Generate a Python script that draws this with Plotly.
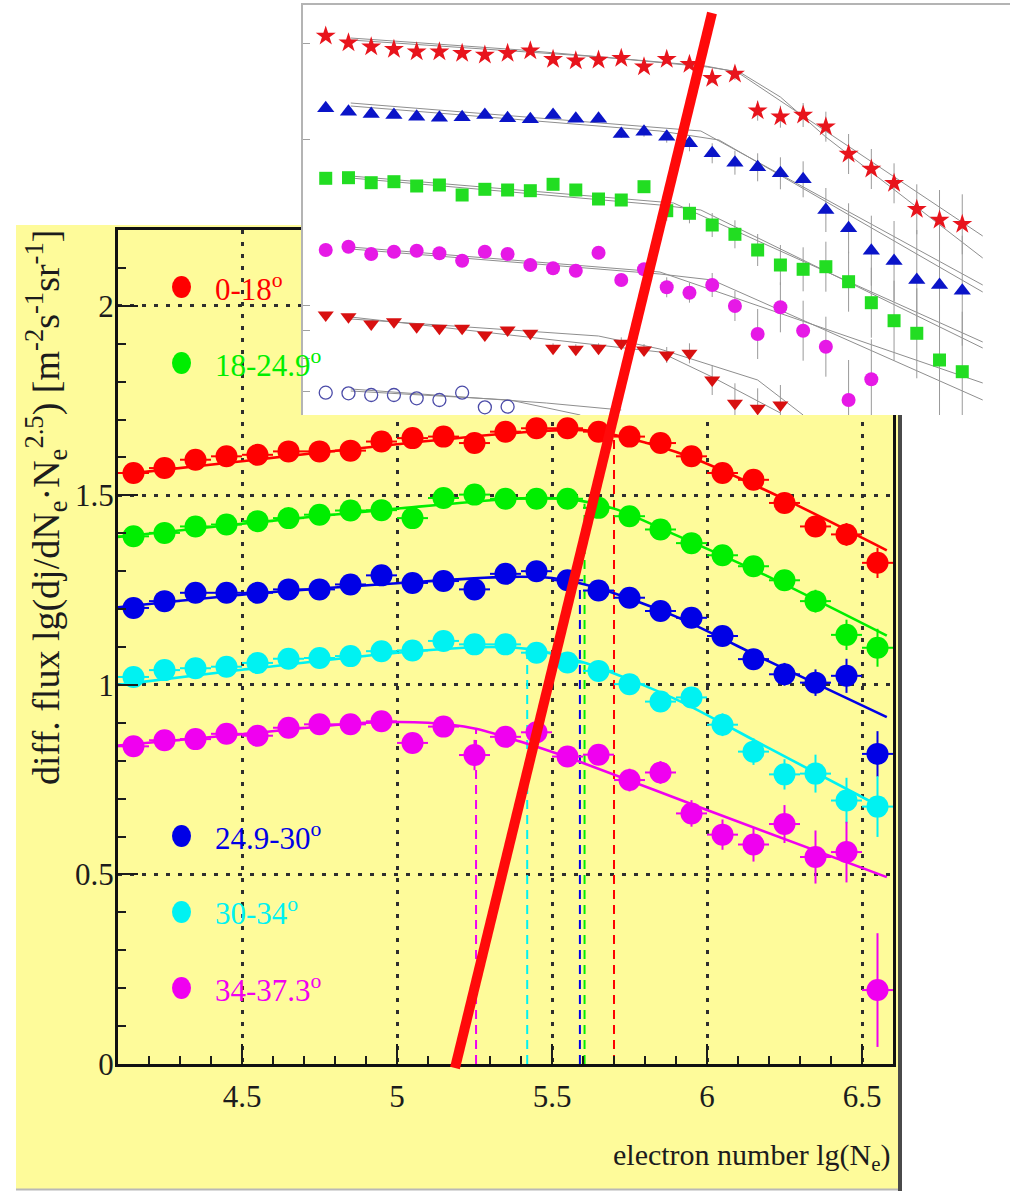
import plotly.graph_objects as go

W, H = 1010, 1191
# vertical extent used for placing paper-referenced items
H_PAPER = 1173


def fx(p):
    """pixel column -> paper x"""
    return p / W


def fy(p):
    """pixel row -> paper y"""
    return 1 - p / H_PAPER


# ---------------- main panel: spectra in five zenith-angle bins ----------------
lg_ne = [4.15, 4.25, 4.35, 4.45, 4.55, 4.65, 4.75, 4.85, 4.95, 5.05, 5.15, 5.25, 5.35,
         5.45, 5.55, 5.65, 5.75, 5.85, 5.95, 6.05, 6.15, 6.25, 6.35, 6.45, 6.55]

flux_0_18 = [1.559, 1.572, 1.594, 1.603, 1.607, 1.616, 1.616, 1.618, 1.642, 1.651, 1.655, 1.638, 1.668,
             1.677, 1.677, 1.668, 1.655, 1.638, 1.603, 1.559, 1.541, 1.480, 1.418, 1.397, 1.322]
flux_18_249 = [1.392, 1.401, 1.418, 1.423, 1.432, 1.440, 1.449, 1.460, 1.461, 1.440, 1.493, 1.502, 1.491,
               1.491, 1.491, 1.467, 1.445, 1.410, 1.374, 1.342, 1.313, 1.276, 1.221, 1.132, 1.098]
flux_249_30 = [1.203, 1.221, 1.243, 1.243, 1.243, 1.252, 1.252, 1.265, 1.289, 1.269, 1.274, 1.252, 1.293,
               1.300, 1.276, 1.249, 1.230, 1.195, 1.177, 1.129, 1.068, 1.028, 1.006, 1.024, 0.818]
flux_30_34 = [1.021, 1.039, 1.044, 1.048, 1.058, 1.069, 1.071, 1.076, 1.089, 1.091, 1.116, 1.107, 1.107,
              1.085, 1.059, 1.037, 1.002, 0.956, 0.967, 0.895, 0.824, 0.764, 0.766, 0.695, 0.679]
flux_34_373 = [0.838, 0.854, 0.857, 0.871, 0.866, 0.887, 0.896, 0.896, 0.904, 0.847, 0.890, 0.815, 0.863,
               0.875, 0.811, 0.816, 0.749, 0.769, 0.661, 0.605, 0.579, 0.633, 0.546, 0.559, 0.195]

err_0_18 = [0.008, 0.008, 0.008, 0.008, 0.008, 0.008, 0.008, 0.008, 0.008, 0.008, 0.008, 0.008, 0.008,
            0.008, 0.008, 0.008, 0.010, 0.010, 0.012, 0.014, 0.016, 0.020, 0.024, 0.030, 0.040]
err_18_249 = [0.008, 0.008, 0.008, 0.008, 0.008, 0.008, 0.008, 0.008, 0.008, 0.008, 0.008, 0.008, 0.008,
              0.008, 0.008, 0.010, 0.010, 0.012, 0.014, 0.016, 0.020, 0.024, 0.030, 0.040, 0.050]
err_249_30 = [0.008, 0.008, 0.008, 0.008, 0.008, 0.008, 0.008, 0.008, 0.008, 0.008, 0.008, 0.015, 0.008,
              0.008, 0.010, 0.010, 0.012, 0.014, 0.016, 0.020, 0.024, 0.030, 0.035, 0.045, 0.060]
err_30_34 = [0.008, 0.008, 0.008, 0.008, 0.008, 0.008, 0.008, 0.008, 0.008, 0.008, 0.008, 0.008, 0.010,
             0.010, 0.012, 0.014, 0.016, 0.020, 0.024, 0.030, 0.035, 0.040, 0.050, 0.060, 0.080]
err_34_373 = [0.008, 0.008, 0.008, 0.008, 0.008, 0.008, 0.008, 0.008, 0.010, 0.015, 0.015, 0.040, 0.015,
              0.020, 0.020, 0.025, 0.030, 0.030, 0.035, 0.040, 0.045, 0.050, 0.070, 0.080, 0.150]

# knee fits (smooth broken power law)
fit_x_0_18 = [4.12, 4.5, 5.0, 5.4, 5.6, 5.75, 5.95, 6.25, 6.58]
fit_y_0_18 = [1.556, 1.590, 1.635, 1.666, 1.672, 1.650, 1.600, 1.490, 1.355]
fit_x_18_249 = [4.1, 4.5, 5.0, 5.4, 5.55, 5.7, 5.9, 6.2, 6.58]
fit_y_18_249 = [1.39, 1.425, 1.465, 1.492, 1.49, 1.465, 1.395, 1.285, 1.13]
fit_x_249_30 = [4.1, 4.5, 5.0, 5.35, 5.5, 5.65, 5.9, 6.2, 6.58]
fit_y_249_30 = [1.205, 1.238, 1.268, 1.285, 1.282, 1.255, 1.18, 1.062, 0.915]
fit_x_30_34 = [4.1, 4.5, 5.0, 5.3, 5.42, 5.6, 5.9, 6.2, 6.58]
fit_y_30_34 = [1.0, 1.04, 1.085, 1.10, 1.095, 1.06, 0.962, 0.833, 0.67]
fit_x_34_373 = [4.1, 4.5, 4.9, 5.1, 5.25, 5.4, 5.55, 6.0, 6.58]
fit_y_34_373 = [0.84, 0.87, 0.90, 0.90, 0.885, 0.85, 0.809, 0.67, 0.493]

# knee positions and the fitted flux at the knee
knee_lg_ne = [5.70, 5.605, 5.59, 5.42, 5.255]
knee_flux = [1.655, 1.478, 1.262, 1.092, 0.882]

bin_labels = ["0-18<sup>o</sup>", "18-24.9<sup>o</sup>", "24.9-30<sup>o</sup>",
              "30-34<sup>o</sup>", "34-37.3<sup>o</sup>"]
bin_colors = ["#ff0000", "#00ee00", "#0000e6", "#00f2f2", "#f000f0"]

# ---------------- inset panel: shifted spectra ----------------
inset_lg_ne = [4.0, 4.1, 4.2, 4.3, 4.4, 4.5, 4.6, 4.7, 4.8, 4.9, 5.0, 5.1, 5.2, 5.3, 5.4,
               5.5, 5.6, 5.7, 5.8, 5.9, 6.0, 6.1, 6.2, 6.3, 6.4, 6.5, 6.6, 6.7, 6.8]
inset_star = [3.79, 3.723, 3.683, 3.657, 3.633, 3.633, 3.617, 3.60, 3.617, 3.643, 3.557, 3.543, 3.55,
              3.567, 3.483, 3.557, 3.507, 3.367, 3.41, 3.043, 2.983, 3.0, 2.883, 2.61, 2.46, 2.317,
              2.057, 1.95, 1.907]
inset_tri = [3.067, 3.033, 3.01, 3.0, 2.983, 2.973, 2.977, 3.0, 2.967, 2.957, 3.0, 2.963, 2.963,
             2.81, 2.833, 2.783, 2.717, 2.617, 2.523, 2.477, 2.417, 2.357, 2.05, 1.867, 1.643, 1.54,
             1.35, 1.30, 1.243]
inset_sq = [2.367, 2.373, 2.323, 2.333, 2.29, 2.30, 2.20, 2.257, 2.25, 2.243, 2.307, 2.25, 2.16,
            2.15, 2.283, 2.043, 2.017, 1.90, 1.807, 1.65, 1.50, 1.457, 1.483, 1.333, 1.123, 0.943,
            0.817, 0.55, 0.433]
inset_circ = [1.65, 1.683, 1.61, 1.633, 1.643, 1.617, 1.543, 1.633, 1.61, 1.50, 1.467, 1.443, 1.623,
              1.35, 1.457, 1.277, 1.223, 1.30, 1.09, 0.81, 1.077, 0.843, 0.683, 0.15, 0.357]
inset_dtri = [1.00, 0.983, 0.91, 0.933, 0.883, 0.867, 0.867, 0.80, 0.85, 0.817, 0.667, 0.657, 0.667,
              0.717, 0.65, 0.60, 0.617, 0.35, 0.117, 0.067, 0.10]
inset_ocirc = [0.223, 0.217, 0.20, 0.20, 0.167, 0.15, 0.223, 0.077, 0.083]

inset_star_err = [0, 0, 0, 0, 0, 0, 0, 0, 0, 0, 0, 0, 0, 0, 0, 0, 0, 0.05, 0.06, 0.10, 0.11, 0.12,
                  0.15, 0.20, 0.20, 0.20, 0.25, 0.30, 0.30]
inset_tri_err = [0, 0, 0, 0, 0, 0, 0, 0, 0, 0, 0, 0, 0, 0.04, 0.05, 0.06, 0.08, 0.10, 0.12, 0.14,
                 0.16, 0.18, 0.22, 0.25, 0.35, 0.40, 0.50, 0.50, 0.55]
inset_sq_err = [0, 0, 0, 0, 0, 0, 0, 0, 0, 0, 0, 0, 0, 0, 0, 0.10, 0.10, 0.12, 0.14, 0.16, 0.20,
                0.22, 0.25, 0.30, 0.35, 0.40, 0.45, 0.55, 0.60]
inset_circ_err = [0, 0, 0, 0, 0, 0, 0, 0, 0, 0, 0, 0, 0, 0, 0.05, 0.10, 0.10, 0.12, 0.15, 0.25,
                  0.25, 0.30, 0.30, 0.40, 0.40]
inset_dtri_err = [0, 0, 0, 0, 0, 0, 0, 0, 0, 0, 0.05, 0.05, 0.05, 0.06, 0.06, 0.08, 0.10, 0.15,
                  0.20, 0.20, 0.20]

# two fit curves per inset spectrum
inset_fits = [
    ([4.11, 4.86, 5.67, 5.81, 6.89], [3.77, 3.65, 3.49, 3.43, 1.79]),
    ([4.11, 5.21, 5.68, 5.82, 6.0, 6.2, 6.89], [3.75, 3.58, 3.48, 3.43, 3.18, 2.78, 1.57]),
    ([4.11, 5.47, 5.65, 6.89], [3.12, 2.87, 2.84, 1.30]),
    ([4.11, 5.47, 5.73, 6.89], [3.09, 2.84, 2.75, 1.23]),
    ([4.11, 5.53, 6.89], [2.39, 2.12, 0.73]),
    ([4.11, 5.47, 5.65, 6.89], [2.37, 2.10, 2.05, 0.67]),
    ([4.11, 5.47, 6.89], [1.68, 1.43, 0.32]),
    ([4.11, 5.47, 5.70, 6.89], [1.66, 1.41, 1.35, 0.15]),
    ([4.11, 5.47, 5.70, 6.0], [0.98, 0.63, 0.38, 0.02]),
    ([4.11, 5.2, 5.47, 5.9, 6.1], [0.96, 0.79, 0.66, 0.35, 0.0]),
    ([4.11, 4.97, 5.3], [0.26, 0.12, 0.05]),
    ([4.11, 4.81, 5.12], [0.24, 0.15, 0.0]),
]
inset_ytick_vals = [3.72, 2.76, 1.10, 0.85, 0.57, 0.24]

SERIF = "Liberation Serif"
INK = "#1c1c1c"

fig = go.Figure()

main_sets = [
    (flux_0_18, err_0_18, fit_x_0_18, fit_y_0_18),
    (flux_18_249, err_18_249, fit_x_18_249, fit_y_18_249),
    (flux_249_30, err_249_30, fit_x_249_30, fit_y_249_30),
    (flux_30_34, err_30_34, fit_x_30_34, fit_y_30_34),
    (flux_34_373, err_34_373, fit_x_34_373, fit_y_34_373),
]

# knee markers
for k, col in zip(range(len(knee_lg_ne)), bin_colors):
    fig.add_trace(go.Scatter(
        x=[knee_lg_ne[k], knee_lg_ne[k]], y=[0, knee_flux[k]], mode="lines",
        line=dict(color=col, width=2, dash="9px,6px"), hoverinfo="skip"))

# fitted curves
for (flux, err, fx_, fy_), col in zip(main_sets, bin_colors):
    fig.add_trace(go.Scatter(
        x=fx_, y=fy_, mode="lines",
        line=dict(color=col, width=2.6, shape="spline", smoothing=0.8), hoverinfo="skip"))

# measured points
for (flux, err, fx_, fy_), col, name in zip(main_sets, bin_colors, bin_labels):
    fig.add_trace(go.Scatter(
        x=lg_ne, y=flux, mode="markers", name=name,
        marker=dict(color=col, size=22, line=dict(width=0)),
        error_x=dict(type="constant", value=0.05, thickness=2, width=0, color=col),
        error_y=dict(type="data", array=err, thickness=2, width=0, color=col)))

# inset
for xs, ys in inset_fits:
    fig.add_trace(go.Scatter(
        x=xs, y=ys, mode="lines", xaxis="x2", yaxis="y2",
        line=dict(color="#8e8e8e", width=1.0), hoverinfo="skip"))

inset_sets = [
    (inset_lg_ne, inset_star, inset_star_err, "star", "#e8141c", 15),
    (inset_lg_ne, inset_tri, inset_tri_err, "triangle-up", "#0a14c8", 15),
    (inset_lg_ne, inset_sq, inset_sq_err, "square", "#22dd22", 13),
    (inset_lg_ne[:len(inset_circ)], inset_circ, inset_circ_err, "circle", "#e619e6", 14),
    (inset_lg_ne[:len(inset_dtri)], inset_dtri, inset_dtri_err, "triangle-down", "#d81010", 14),
]
for xs, ys, es, sym, col, size in inset_sets:
    fig.add_trace(go.Scatter(
        x=xs, y=ys, mode="markers", xaxis="x2", yaxis="y2",
        marker=dict(symbol=sym, color=col, size=size, line=dict(width=0)),
        error_y=dict(type="data", array=es, thickness=1, width=0, color="#9a9a9a")))
fig.add_trace(go.Scatter(
    x=inset_lg_ne[:len(inset_ocirc)], y=inset_ocirc, mode="markers", xaxis="x2", yaxis="y2",
    marker=dict(symbol="circle-open", color="#4b4ba8", size=13, line=dict(width=1.3))))

axis_font = dict(family=SERIF, size=31, color=INK)

fig.update_layout(
    width=W, height=H, margin=dict(l=0, r=0, t=0, b=0),
    paper_bgcolor="white", plot_bgcolor="white", showlegend=False,
    xaxis=dict(
        domain=[fx(118), fx(893)], range=[4.1, 6.6], anchor="y",
        tick0=0, dtick=0.5, ticks="inside", ticklen=20, tickwidth=2, tickcolor=INK,
        minor=dict(dtick=0.1, ticks="inside", ticklen=8, tickwidth=2, tickcolor=INK, showgrid=False),
        showgrid=True, gridcolor="#2e2e2e", gridwidth=3, griddash="4px,8px",
        showline=True, linewidth=3, linecolor="#111", mirror=True, zeroline=False,
        tickfont=axis_font, ticklabelstandoff=3),
    yaxis=dict(
        domain=[fy(1064), fy(230)], range=[0, 2.2], anchor="x",
        tick0=0, dtick=0.5, ticks="inside", ticklen=20, tickwidth=2, tickcolor=INK,
        minor=dict(dtick=0.1, ticks="inside", ticklen=8, tickwidth=2, tickcolor=INK, showgrid=False),
        showgrid=True, gridcolor="#2e2e2e", gridwidth=3, griddash="4px,8px",
        showline=True, linewidth=3, linecolor="#111", mirror=True, zeroline=False,
        tickfont=axis_font, ticklabelstandoff=-5),
    xaxis2=dict(
        domain=[fx(303), 1.0], range=[3.9, 7.01], anchor="y2", side="top",
        showline=True, linecolor="#b4b4b4", linewidth=1.5, ticks="", showticklabels=False,
        showgrid=False, zeroline=False),
    yaxis2=dict(
        domain=[fy(415), fy(5)], range=[0, 4.1], anchor="x2",
        showline=True, linecolor="#b4b4b4", linewidth=1.5, ticks="inside", ticklen=7,
        tickcolor="#a0a0a0", tickvals=inset_ytick_vals, showticklabels=False,
        showgrid=False, zeroline=False),
)

shapes = [
    # yellow panel behind the main plot
    dict(type="rect", xref="paper", yref="paper", x0=fx(16), x1=fx(898), y0=fy(1189), y1=fy(225),
         fillcolor="#fefb9a", line=dict(width=0), layer="below"),
    dict(type="line", xref="paper", yref="paper", x0=fx(900), x1=fx(900), y0=fy(1191), y1=fy(225),
         line=dict(color="#4a4a4a", width=4), layer="below"),
    dict(type="line", xref="paper", yref="paper", x0=fx(16), x1=fx(898), y0=fy(1189.5), y1=fy(1189.5),
         line=dict(color="#b8b8b8", width=2), layer="below"),
]

# legend keys and labels
legend_rows = [287, 363, 836, 912, 988]
annotations = []
for row, col, lab in zip(legend_rows, bin_colors, bin_labels):
    shapes.append(dict(type="circle", xref="paper", yref="paper",
                       x0=fx(172), x1=fx(191), y0=fy(row + 11), y1=fy(row - 11),
                       fillcolor=col, line=dict(width=0), layer="above"))
    annotations.append(dict(xref="paper", yref="paper", x=fx(213), y=fy(row), xanchor="left",
                            yanchor="middle", showarrow=False, text=lab,
                            font=dict(family=SERIF, size=31, color=col)))

# axis titles
annotations.append(dict(
    xref="paper", yref="paper", x=fx(46), y=fy(508), xanchor="center", yanchor="middle",
    showarrow=False, textangle=-90,
    text="diff. flux lg(dj/dN<sub>e</sub>·N<sub>e</sub><sup>2.5</sup>) [m<sup>-2</sup>s<sup>-1</sup>sr<sup>-1</sup>]",
    font=dict(family=SERIF, size=38, color=INK)))
annotations.append(dict(
    xref="paper", yref="paper", x=fx(893), y=fy(1157), xanchor="right", yanchor="middle",
    showarrow=False, text="electron number lg(N<sub>e</sub>)",
    font=dict(family=SERIF, size=30, color=INK)))

# red marker line drawn across both panels
shapes.append(dict(type="line", xref="paper", yref="paper",
                   x0=fx(455), y0=fy(1068), x1=fx(712), y1=fy(13),
                   line=dict(color="#ff0a0a", width=10), layer="above"))

fig.update_layout(shapes=shapes, annotations=annotations)

fig.write_html("out.html")
